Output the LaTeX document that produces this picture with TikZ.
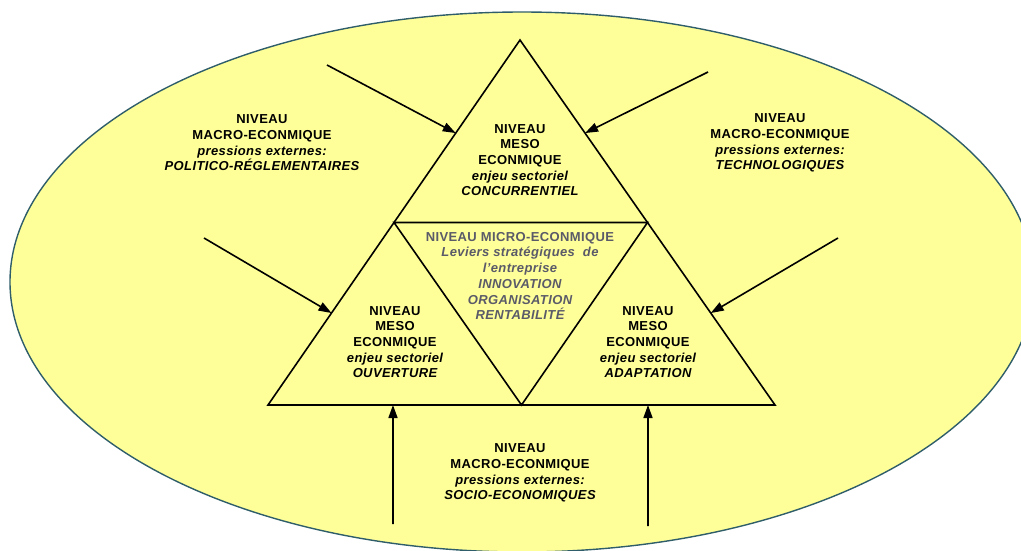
\documentclass[tikz,border=0pt]{standalone}
\usepackage{fontspec}
\setmainfont{Liberation Sans}[LetterSpace=3]
\usetikzlibrary{arrows.meta,calc}
\definecolor{ellfill}{RGB}{255,255,153}
\definecolor{elldraw}{RGB}{47,94,106}
\definecolor{microgray}{RGB}{90,90,105}
\tikzset{
  lbl/.style={align=center,font=\fontsize{13}{15.7}\selectfont\bfseries,text=black,inner sep=0pt},
  micro/.style={lbl,text=microgray},
  tri/.style={draw=black,line width=1.6pt,line join=miter},
  push/.style={draw=black,line width=1.6pt,-{Triangle[length=13pt,width=9pt]}},
}
\begin{document}
\begin{tikzpicture}[x=1pt,y=-1pt]
\useasboundingbox (0,0) rectangle (1021,550);
% outer ellipse
\draw[elldraw,fill=ellfill,line width=1.4pt] (522,282) ellipse [x radius=512,y radius=270];
% triangle vertices
\coordinate (A) at (520,40);
\coordinate (BL) at (268,405);
\coordinate (BR) at (775,405);
\coordinate (ML) at ($(A)!0.5!(BL)$);
\coordinate (MR) at ($(A)!0.5!(BR)$);
\coordinate (MB) at ($(BL)!0.5!(BR)$);
\draw[tri] (A) -- (BR) -- (BL) -- cycle;
\draw[tri] (ML) -- (MR) -- (MB) -- cycle;
% arrow targets on edges
\coordinate (tTL) at ($(A)!0.255!(BL)$);
\coordinate (tTR) at ($(A)!0.255!(BR)$);
\coordinate (tML) at ($(A)!0.748!(BL)$);
\coordinate (tMR) at ($(A)!0.748!(BR)$);
\coordinate (tBL) at ($(BL)!0.2465!(BR)$);
\coordinate (tBR) at ($(BL)!0.7495!(BR)$);
% arrow sources
\coordinate (sTL) at (327,65);
\coordinate (sTR) at (708,72);
\coordinate (sML) at (204,238);
\coordinate (sMR) at (838,238);
\coordinate (sBL) at (393,524);
\coordinate (sBR) at (648,526);
\draw[push] (sTL) -- (tTL);
\draw[push] (sTR) -- (tTR);
\draw[push] (sML) -- (tML);
\draw[push] (sMR) -- (tMR);
\draw[push] (sBL) -- (tBL);
\draw[push] (sBR) -- (tBR);
% texts
\node[lbl] (meso1) at (520,160) {NIVEAU\\MESO\\ECONMIQUE\\\itshape enjeu sectoriel\\\itshape CONCURRENTIEL};
\node[lbl] (meso2) at (395,342) {NIVEAU\\MESO\\ECONMIQUE\\\itshape enjeu sectoriel\\\itshape OUVERTURE};
\node[lbl] (meso3) at (648,342) {NIVEAU\\MESO\\ECONMIQUE\\\itshape enjeu sectoriel\\\itshape ADAPTATION};
\node[micro] (micro) at (520,276) {NIVEAU MICRO-ECONMIQUE\\\itshape Leviers stratégiques\ \ de\\\itshape l'entreprise\\\itshape INNOVATION\\\itshape ORGANISATION\\\itshape RENTABILITÉ};
\node[lbl] (macroL) at (262,143) {NIVEAU\\MACRO-ECONMIQUE\\\itshape pressions externes:\\\itshape POLITICO-RÉGLEMENTAIRES};
\node[lbl] (macroR) at (780,143) {NIVEAU\\MACRO-ECONMIQUE\\\itshape pressions externes:\\\itshape TECHNOLOGIQUES};
\node[lbl] (macroB) at (520,473) {NIVEAU\\MACRO-ECONMIQUE\\\itshape pressions externes:\\\itshape SOCIO-ECONOMIQUES};
\end{tikzpicture}
\end{document}
